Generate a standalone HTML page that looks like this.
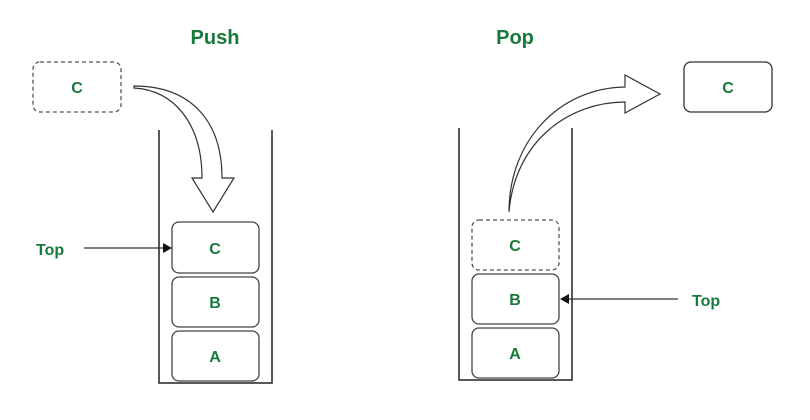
<!DOCTYPE html>
<html><head><meta charset="utf-8"><style>
html,body{margin:0;padding:0;background:#fff;width:810px;height:420px;overflow:hidden}
text{font-family:"Liberation Sans",Arial,sans-serif;font-weight:bold;fill:#17793a}
</style></head><body>
<svg width="810" height="420" viewBox="0 0 810 420" xmlns="http://www.w3.org/2000/svg">
<text x="215" y="44" font-size="20" text-anchor="middle">Push</text>
<text x="515" y="44" font-size="20" text-anchor="middle">Pop</text>

<!-- left -->
<rect x="33" y="62" width="88" height="50" rx="7" fill="#fff" stroke="#555" stroke-width="1.3" stroke-dasharray="4,3"/>
<text x="77" y="93" font-size="16" text-anchor="middle">C</text>
<path d="M134,86 C190,86 222,120 222,178 L234,178 L213,212 L192,178 L202,178 C202,125 175,90 134,88 Z" fill="#fff" stroke="#333" stroke-width="1.2"/>
<path d="M159,130 L159,383 L272,383 L272,130" fill="none" stroke="#222" stroke-width="1.5"/>
<rect x="172" y="222" width="87" height="51" rx="7" fill="#fff" stroke="#444" stroke-width="1.3"/>
<rect x="172" y="277" width="87" height="50" rx="7" fill="#fff" stroke="#444" stroke-width="1.3"/>
<rect x="172" y="331" width="87" height="50" rx="7" fill="#fff" stroke="#444" stroke-width="1.3"/>
<text x="215" y="254" font-size="16" text-anchor="middle">C</text>
<text x="215" y="308" font-size="16" text-anchor="middle">B</text>
<text x="215" y="362" font-size="16" text-anchor="middle">A</text>
<text x="36" y="255" font-size="16">Top</text>
<line x1="84" y1="248" x2="164" y2="248" stroke="#333" stroke-width="1.3"/>
<path d="M172,248 L163,243 L163,253 Z" fill="#111"/>

<!-- right -->
<path d="M509,212 C509,140 560,88 625,87 L625,75 L660,94 L625,113 L625,102 C570,102 515,140 509,212 Z" fill="#fff" stroke="#333" stroke-width="1.2"/>
<rect x="684" y="62" width="88" height="50" rx="7" fill="#fff" stroke="#333" stroke-width="1.3"/>
<text x="728" y="93" font-size="16" text-anchor="middle">C</text>
<path d="M459,128 L459,380 L572,380 L572,128" fill="none" stroke="#222" stroke-width="1.5"/>
<rect x="472" y="220" width="87" height="50" rx="7" fill="#fff" stroke="#555" stroke-width="1.3" stroke-dasharray="4,3"/>
<rect x="472" y="274" width="87" height="50" rx="7" fill="#fff" stroke="#444" stroke-width="1.3"/>
<rect x="472" y="328" width="87" height="50" rx="7" fill="#fff" stroke="#444" stroke-width="1.3"/>
<text x="515" y="251" font-size="16" text-anchor="middle">C</text>
<text x="515" y="305" font-size="16" text-anchor="middle">B</text>
<text x="515" y="359" font-size="16" text-anchor="middle">A</text>
<text x="692" y="306" font-size="16">Top</text>
<line x1="568" y1="299" x2="678" y2="299" stroke="#333" stroke-width="1.3"/>
<path d="M560,299 L569,294 L569,304 Z" fill="#111"/>
</svg>
</body></html>
